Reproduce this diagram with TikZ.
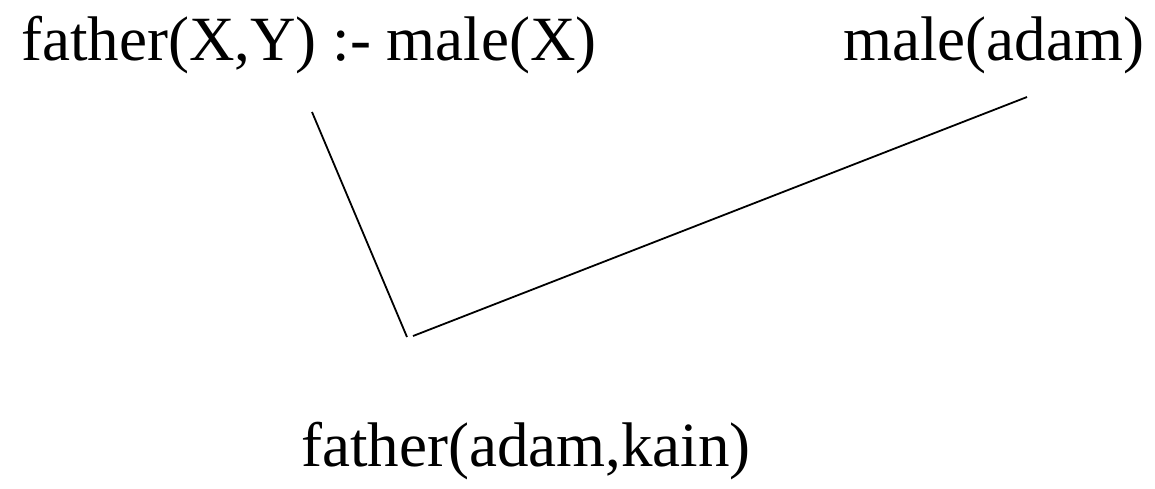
\documentclass[tikz,border=0pt]{standalone}
\usepackage{fontspec}
\setmainfont{Liberation Serif}
\usetikzlibrary{positioning}

\begin{document}
\begin{tikzpicture}[
    x=1pt, y=-1pt,
    font=\fontsize{63}{75}\selectfont,
    clause/.style={inner sep=0pt, anchor=base west},
    edge/.style={line width=1.8pt}
]

\useasboundingbox (0,0) rectangle (1155,488);

\node[clause] (rule) at (21,60) {father(X,Y) :- male(X)};
\node[clause] (fact) at (843,60) {male(adam)};
\node[clause] (goal) at (301,466) {father(adam,kain)};

\coordinate (rule_end) at (312,112);
\coordinate (fact_end) at (1027,97);
\coordinate (res_l) at (407,337);
\coordinate (res_r) at (413,336);

\draw[edge] (rule_end) -- (res_l);
\draw[edge] (res_r) -- (fact_end);

\end{tikzpicture}
\end{document}
